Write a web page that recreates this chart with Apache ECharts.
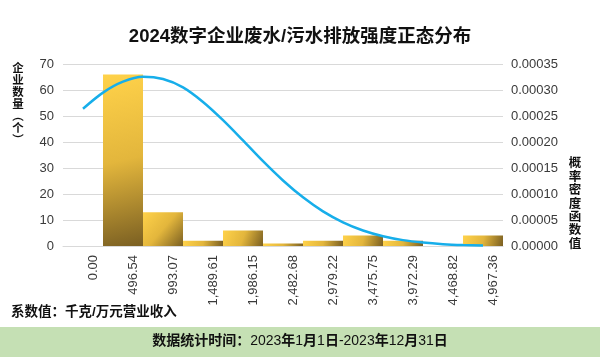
<!DOCTYPE html>
<html>
<head>
<meta charset="utf-8">
<script src="https://cdn.jsdelivr.net/npm/echarts@6/dist/echarts.min.js"></script>
<style>
html,body{margin:0;padding:0;background:#fff;}
#main{width:600px;height:357px;}
</style>
</head>
<body>
<div id="main"></div>
<script>
const categories = ['0.00','496.54','993.07','1,489.61','1,986.15','2,482.68','2,979.22','3,475.75','3,972.29','4,468.82','4,967.36'];
const counts = [0, 66, 13, 2, 6, 1, 2, 4, 2, 0, 4];
// density curve at half-category steps (x in category-index units)
const densityX = [0, 0.5, 1, 1.5, 2, 2.5, 3, 3.5, 4, 4.5, 5, 5.5, 6, 6.5, 7, 7.5, 8, 8.5, 9, 9.5, 10];
const densityY = [0.000264, 0.000295, 0.000316, 0.0003255, 0.000321, 0.000305, 0.000277, 0.000242, 0.000203, 0.000163,
                  0.000126, 0.0000936, 0.0000666, 0.0000455, 0.0000298, 0.0000188, 0.0000113, 0.0000066, 0.0000036, 0.0000019, 0.000001];
const countTicks = { min: 0, max: 70, interval: 10 };
const densityTicks = { min: 0, max: 0.00035, interval: 0.00005 };

const FONT = '"Liberation Sans", "Noto Sans CJK SC", sans-serif';
const CJK = '"Noto Sans CJK SC", sans-serif';
const chart = echarts.init(document.getElementById('main'), null, { renderer: 'canvas' });

const barColor = new echarts.graphic.LinearGradient(0, 0, 1, 1, [
  { offset: 0, color: '#FFD24A' },
  { offset: 0.5, color: '#E3B63C' },
  { offset: 1, color: '#7A5F22' }
]);

chart.setOption({
  animation: false,
  backgroundColor: '#ffffff',
  title: {
    text: '2024数字企业废水/污水排放强度正态分布',
    left: 'center',
    top: 23,
    textStyle: { fontFamily: FONT, fontSize: 18.5, fontWeight: 'bold', color: '#111' }
  },
  grid: { left: 63, right: 97, top: 64, bottom: 111, containLabel: false },
  xAxis: [
    {
      type: 'category',
      data: categories,
      axisLine: { show: true, lineStyle: { color: '#d9d9d9' } },
      axisTick: { show: false },
      axisLabel: {
        rotate: 90,
        margin: 9,
        fontFamily: FONT,
        fontSize: 13,
        color: '#3a3a3a',
        verticalAlign: 'top',
        lineHeight: 20,
        interval: 0
      }
    },
    {
      type: 'value',
      min: -0.5, max: 10.5,
      show: false
    }
  ],
  yAxis: [
    {
      type: 'value',
      min: countTicks.min, max: countTicks.max, interval: countTicks.interval,
      axisLine: { show: false }, axisTick: { show: false },
      splitLine: { lineStyle: { color: '#d9d9d9', width: 1 } },
      axisLabel: { fontFamily: FONT, fontSize: 13, color: '#3a3a3a', margin: 9 }
    },
    {
      type: 'value',
      min: densityTicks.min, max: densityTicks.max, interval: densityTicks.interval,
      axisLine: { show: false }, axisTick: { show: false },
      splitLine: { show: false },
      axisLabel: {
        fontFamily: FONT, fontSize: 13, color: '#3a3a3a', margin: 8,
        formatter: v => v.toFixed(5)
      }
    }
  ],
  series: [
    {
      type: 'bar',
      data: counts,
      xAxisIndex: 0,
      yAxisIndex: 0,
      barCategoryGap: '0%',
      itemStyle: { color: barColor }
    },
    {
      type: 'line',
      data: densityX.map((x, i) => [x, densityY[i]]),
      xAxisIndex: 1,
      yAxisIndex: 1,
      smooth: 0.3,
      showSymbol: false,
      lineStyle: { color: '#17AEEA', width: 2.5 },
      itemStyle: { color: '#17AEEA' },
      z: 5
    }
  ],
  graphic: [
    {
      type: 'text', x: 18, y: 62,
      style: {
        text: '企\n业\n数\n量\n︵\n个\n︶',
        font: 'bold 11.5px ' + CJK, lineHeight: 12, fill: '#111', align: 'center'
      }
    },
    {
      type: 'text', x: 575, y: 156,
      style: {
        text: '概\n率\n密\n度\n函\n数\n值',
        font: 'bold 12.5px ' + CJK, lineHeight: 13.4, fill: '#111', align: 'center'
      }
    },
    {
      type: 'text', left: 11, top: 306,
      style: {
        text: '系数值：千克/万元营业收入',
        font: 'bold 13.5px ' + FONT, fill: '#111'
      }
    },
    {
      type: 'rect', left: 0, top: 327,
      shape: { x: 0, y: 0, width: 600, height: 30 },
      style: { fill: '#C5E0B4' }
    },
    {
      type: 'text', left: 'center', top: 334,
      style: {
        text: '{b|数据统计时间：}{n|2023}{b|年}{n|1}{b|月}{n|1}{b|日}{n|-2023}{b|年}{n|12}{b|月}{n|31}{b|日}',
        rich: {
          b: { font: 'bold 14px ' + FONT, fill: '#111' },
          n: { font: '14px ' + FONT, fill: '#111' }
        }
      }
    }
  ]
});
</script>
</body>
</html>
